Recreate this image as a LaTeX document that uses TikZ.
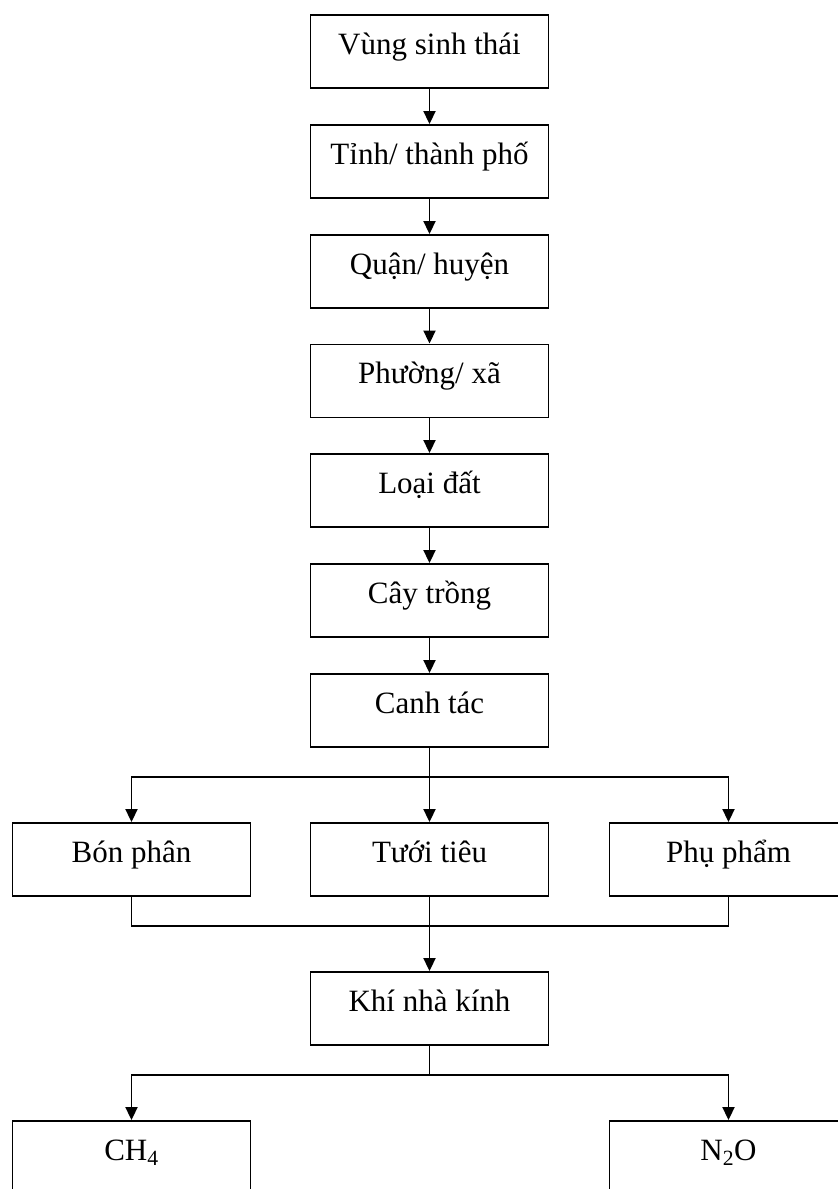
\documentclass[tikz,border=0pt]{standalone}
\usepackage{fontspec}
\setmainfont{Liberation Serif}
\usetikzlibrary{arrows.meta}

\begin{document}
\begin{tikzpicture}[x=1pt,y=-1pt,
  box/.style={draw,line width=1.9pt,inner sep=0pt,minimum width=238pt,
    text height=39pt,text depth=34pt,font=\fontsize{31}{36}\selectfont},
  arr/.style={line width=1.9pt,-{Triangle[length=13pt,width=12pt]}},
  ln/.style={line width=1.9pt}]
\useasboundingbox (0,0) rectangle (838,1189);
\clip (0,0) rectangle (838,1189);
\node[box] (vung) at (429.5,51.5) {Vùng sinh thái};
\node[box] (tinh) at (429.5,161.5) {Tỉnh/ thành phố};
\node[box] (quan) at (429.5,271.5) {Quận/ huyện};
\node[box] (phuong) at (429.5,381) {Phường/ xã};
\node[box] (loai) at (429.5,490.5) {Loại đất};
\node[box] (cay) at (429.5,600.5) {Cây trồng};
\node[box] (canh) at (429.5,710.5) {Canh tác};
\node[box] (bon) at (131.5,859.5) {Bón phân};
\node[box] (tuoi) at (429.5,859.5) {Tưới tiêu};
\node[box] (phu) at (728.5,859.5) {Phụ phẩm};
\node[box] (khi) at (429.5,1008.5) {Khí nhà kính};
\node[box] (ch) at (131.5,1157.5) {CH\textsubscript{4}};
\node[box] (no) at (728.5,1157.5) {N\textsubscript{2}O};
\coordinate (split) at (429.5,777);
\coordinate (join) at (429.5,926);
\coordinate (gas) at (429.5,1075);
\draw[arr] (vung) -- (tinh);
\draw[arr] (tinh) -- (quan);
\draw[arr] (quan) -- (phuong);
\draw[arr] (phuong) -- (loai);
\draw[arr] (loai) -- (cay);
\draw[arr] (cay) -- (canh);
\draw[arr] (canh) -- (tuoi);
\draw[arr] (split) -| (bon);
\draw[arr] (split) -| (phu);
\draw[ln] (bon) |- (join);
\draw[ln] (phu) |- (join);
\draw[arr] (tuoi) -- (khi);
\draw[ln] (khi) -- (gas);
\draw[arr] (gas) -| (ch);
\draw[arr] (gas) -| (no);
\end{tikzpicture}
\end{document}
